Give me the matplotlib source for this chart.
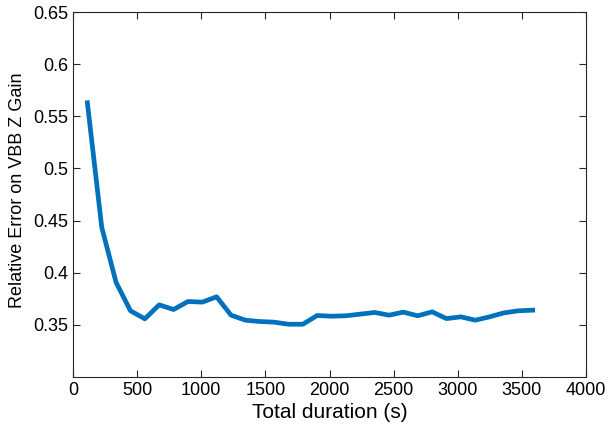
import matplotlib.pyplot as plt
import numpy as np

# total duration of the record (s) and relative error on the VBB Z gain
duration = [112, 224, 336, 448, 560, 672, 784, 896, 1008, 1120, 1232, 1344,
            1456, 1568, 1680, 1792, 1904, 2016, 2128, 2240, 2352, 2464, 2576,
            2688, 2800, 2912, 3024, 3136, 3248, 3360, 3472, 3584]
rel_error = [0.563, 0.4436, 0.3907, 0.3635, 0.3558, 0.3692, 0.3647, 0.3724,
             0.3718, 0.3769, 0.3593, 0.3545, 0.3532, 0.3526, 0.3506, 0.3506,
             0.359, 0.3583, 0.3587, 0.3603, 0.3619, 0.3593, 0.3622, 0.3587,
             0.3625, 0.356, 0.3577, 0.3545, 0.3577, 0.3615, 0.3635, 0.3641]

xticks = [0, 500, 1000, 1500, 2000, 2500, 3000, 3500, 4000]
yticks = [0.35, 0.4, 0.45, 0.5, 0.55, 0.6, 0.65]

plt.rcParams['font.family'] = ['Liberation Sans', 'DejaVu Sans']

fig = plt.figure(figsize=(6.14, 4.26), dpi=100)
ax = fig.add_axes([0.1189, 0.115, 0.8355, 0.8568])
ax.plot(duration, rel_error, color='#0072BD', linewidth=3.4,
        solid_joinstyle='round')

ax.set_xlim(0, 4000)
ax.set_ylim(0.3, 0.65)
ax.set_xticks(xticks)
ax.set_yticks(yticks)
ax.set_yticklabels(['0.35', '0.4', '0.45', '0.5', '0.55', '0.6', '0.65'])
ax.tick_params(direction='in', length=5, width=0.8, colors='#262626',
               labelsize=13, top=True, right=True, labelcolor='black')
for s in ax.spines.values():
    s.set_linewidth(0.8)
    s.set_color('#262626')

ax.set_xlabel('Total duration (s)', fontsize=15, labelpad=3)
ax.set_ylabel('Relative Error on VBB Z Gain', fontsize=13)
ax.yaxis.set_label_coords(-0.0916, 0.513)

fig.savefig('out.png', dpi=100)
